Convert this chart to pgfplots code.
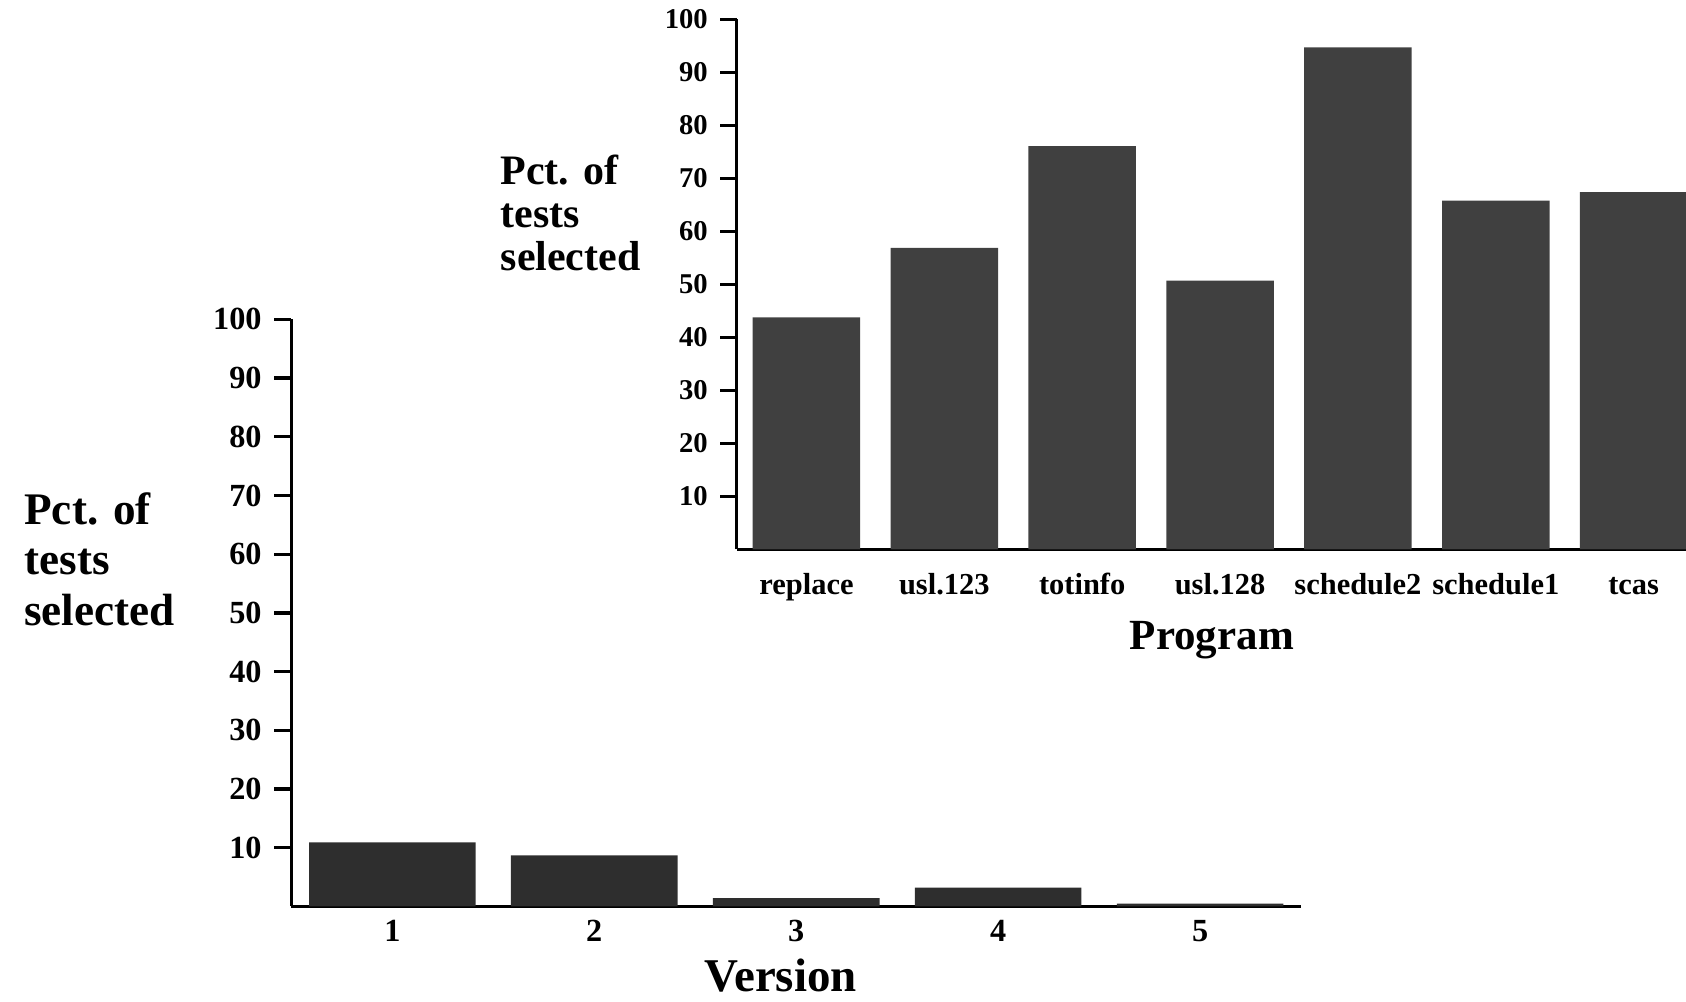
\documentclass[border=0pt]{standalone}
\usepackage{fontspec}
\setmainfont{Liberation Serif}
\usepackage{pgfplots}
\pgfplotsset{compat=1.18}
\begin{document}
\begin{tikzpicture}
\useasboundingbox (0pt,0pt) rectangle (470.4pt,279.3pt);
% Top chart: by program
\begin{axis}[
  at={(205.5pt,126pt)}, anchor=south west, scale only axis,
  width=264.9pt, height=147.9pt,
  xmin=-0.507, xmax=6.38, ymin=0, ymax=100,
  axis x line=bottom, axis y line=left,
  axis line style={-, line width=0.9pt},
  ytick={10,20,...,100},
  xtick={0,...,6},
  xticklabels={replace,usl.123,totinfo,usl.128,schedule2,schedule1,tcas},
  tick align=outside, major tick length=4.5pt,
  ytick style={line width=0.9pt, black},
  xtick style={draw=none},
  /pgf/number format/assume math mode=true,
  yticklabel style={font=\fontsize{8}{9}\selectfont\bfseries},
  xticklabel style={font=\fontsize{8.5}{10}\selectfont\bfseries, text height=0.7em, text depth=0.2em, yshift=2.5pt},
]
\addplot[ybar, bar width=30pt, fill=black!75, draw=none] coordinates {
  (0,43.8) (1,56.9) (2,76.1) (3,50.7) (4,94.7) (5,65.8) (6,67.4)
};
\end{axis}
% Bottom chart: by version
\begin{axis}[
  at={(81.3pt,26.4pt)}, anchor=south west, scale only axis,
  width=281.7pt, height=163.8pt,
  xmin=0.5, xmax=5.5, ymin=0, ymax=100,
  axis x line=bottom, axis y line=left,
  axis line style={-, line width=0.9pt},
  ytick={10,20,...,100},
  xtick={1,...,5},
  tick align=outside, major tick length=4.8pt,
  ytick style={line width=0.9pt, black},
  xtick style={draw=none},
  /pgf/number format/assume math mode=true,
  yticklabel style={font=\fontsize{9}{10}\selectfont\bfseries},
  xticklabel style={font=\fontsize{9}{10}\selectfont\bfseries, yshift=4.4pt},
]
\addplot[ybar, bar width=46.5pt, fill=black!82, draw=none] coordinates {
  (1,10.9) (2,8.7) (3,1.4) (4,3.2) (5,0.5)
};
\end{axis}
\node[anchor=west, align=left, inner sep=0pt, font=\fontsize{11.7}{12}\selectfont\bfseries] at (139.5pt,219.9pt) {Pct. of\\tests\\selected};
\node[anchor=west, align=left, inner sep=0pt, font=\fontsize{12.6}{14.1}\selectfont\bfseries] at (6.6pt,123.3pt) {Pct. of\\tests\\selected};
\node[inner sep=0pt, font=\fontsize{12}{14}\selectfont\bfseries] at (338.1pt,100.8pt) {Program};
\node[inner sep=0pt, font=\fontsize{13.1}{15}\selectfont\bfseries] at (217.8pt,7pt) {Version};
\end{tikzpicture}
\end{document}
